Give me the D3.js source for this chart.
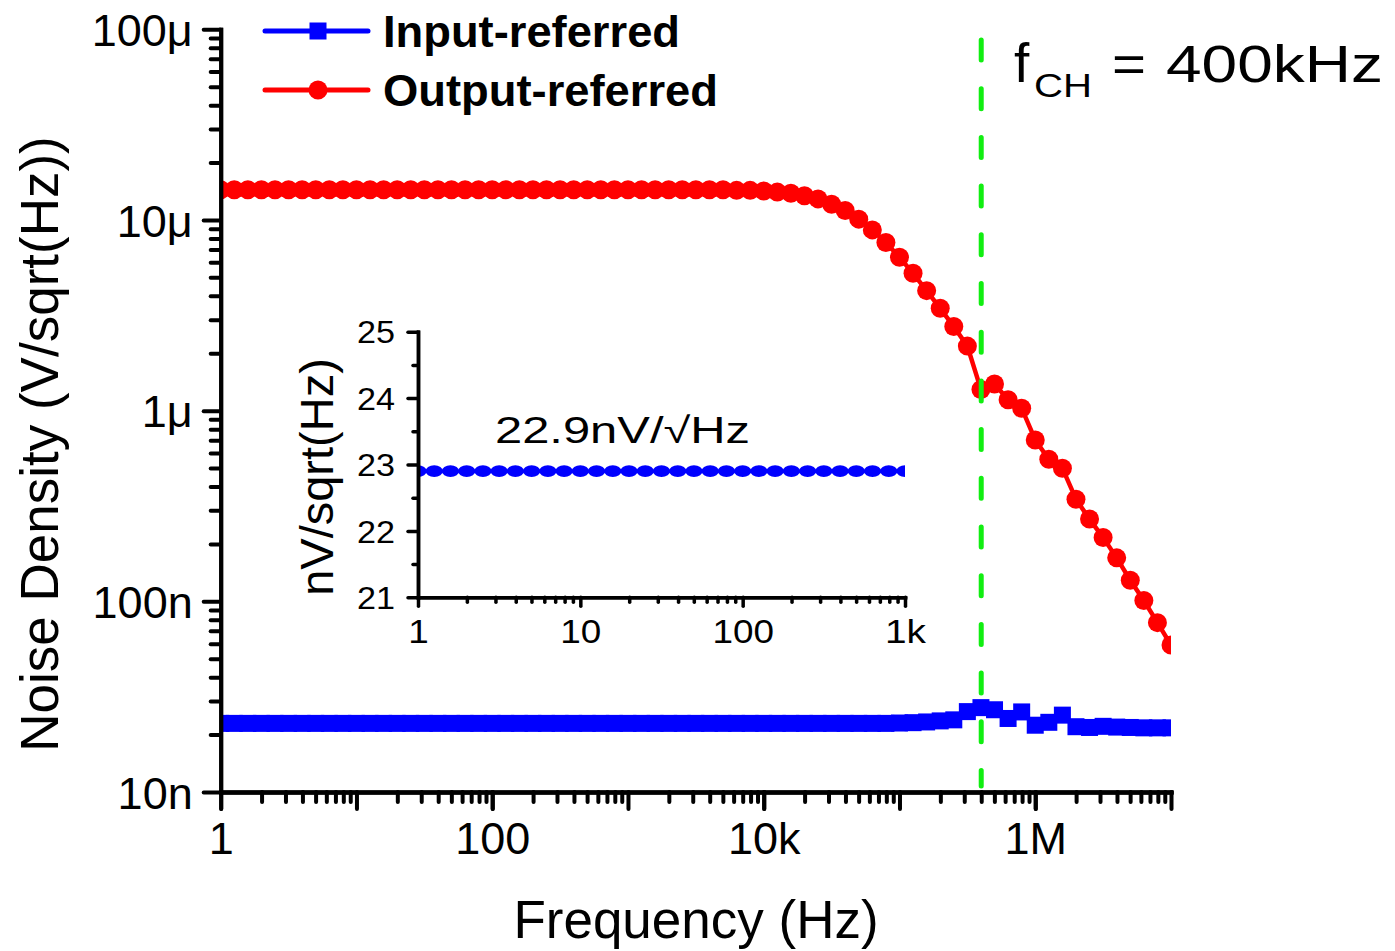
<!DOCTYPE html>
<html>
<head>
<meta charset="utf-8">
<script src="https://cdn.jsdelivr.net/npm/d3@7"></script>
<style>
  body { margin: 0; background: #fff; }
  svg { display: block; }
  text { font-family: "Liberation Sans", Arial, Helvetica, sans-serif; fill: #000; }
</style>
</head>
<body>
<svg id="chart" width="1395" height="951"></svg>
<script>
// Sweep: 10 points per decade, 1 Hz .. 10 MHz
const pointsPerDecade = 10;

// Output-referred noise density, μV/√Hz
const outputReferred = [
  14.4, 14.4, 14.4, 14.4, 14.4, 14.4, 14.4, 14.4, 14.4, 14.4,
  14.4, 14.4, 14.4, 14.4, 14.4, 14.4, 14.4, 14.4, 14.4, 14.4,
  14.4, 14.4, 14.4, 14.4, 14.4, 14.4, 14.4, 14.4, 14.4, 14.4,
  14.4, 14.4, 14.4, 14.4, 14.4, 14.4, 14.4, 14.4, 14.3, 14.3,
  14.2, 14.0, 13.8, 13.4, 12.9, 12.1, 11.2, 10.1, 8.87, 7.61,
  6.37, 5.25, 4.26, 3.44, 2.76, 2.18, 1.29, 1.38, 1.14, 1.03,
  0.702, 0.556, 0.499, 0.343, 0.270, 0.216, 0.169, 0.129, 0.101, 0.0773,
  0.059
];

// Input-referred noise density, nV/√Hz
const inputReferred = [
  22.9, 22.9, 22.9, 22.9, 22.9, 22.9, 22.9, 22.9, 22.9, 22.9,
  22.9, 22.9, 22.9, 22.9, 22.9, 22.9, 22.9, 22.9, 22.9, 22.9,
  22.9, 22.9, 22.9, 22.9, 22.9, 22.9, 22.9, 22.9, 22.9, 22.9,
  22.9, 22.9, 22.9, 22.9, 22.9, 22.9, 22.9, 22.9, 22.9, 22.9,
  22.9, 22.9, 22.9, 22.9, 22.9, 22.9, 22.9, 22.9, 22.9, 22.9,
  23.0, 23.1, 23.3, 23.6, 23.9, 26.4, 27.7, 27.0, 24.3, 26.3,
  22.4, 23.2, 25.3, 22.0, 21.8, 22.1, 21.9, 21.8, 21.7, 21.7,
  21.7
];

// Inset: input-referred noise, 1 Hz .. 1 kHz, nV/√Hz
const insetNoise = [
  22.9, 22.9, 22.9, 22.9, 22.9, 22.9, 22.9, 22.9, 22.9, 22.9,
  22.9, 22.9, 22.9, 22.9, 22.9, 22.9, 22.9, 22.9, 22.9, 22.9,
  22.9, 22.9, 22.9, 22.9, 22.9, 22.9, 22.9, 22.9, 22.9, 22.9,
  22.9
];

const xTickValues = [1, 100, 1e4, 1e6];
const xTickLabels = ["1", "100", "10k", "1M"];
const yTickValues = [1e-8, 1e-7, 1e-6, 1e-5, 1e-4];
const yTickLabels = ["10n", "100n", "1μ", "10μ", "100μ"];
const insetXTickValues = [1, 10, 100, 1000];
const insetXTickLabels = ["1", "10", "100", "1k"];
const insetYTickValues = [21, 22, 23, 24, 25];
const insetYTickLabels = ["21", "22", "23", "24", "25"];
const seriesNames = ["Input-referred", "Output-referred"];
const chopFrequency = 400e3;
const insetNote = "22.9nV/√Hz";

const RED = "#ff0000", BLUE = "#0000ff", GREEN = "#11ee11";

const svg = d3.select("#chart");

const sweep = d3.range(outputReferred.length).map(k => Math.pow(10, k / pointsPerDecade));
const insetSweep = d3.range(insetNoise.length).map(k => Math.pow(10, k / pointsPerDecade));

// ---------- main scales ----------
const x = d3.scaleLog().domain([1, 1e7]).range([220.7, 1171]);
const y = d3.scaleLog().domain([1e-8, 1e-4]).range([792, 29.3]);

const [px0, px1] = x.range();
const [py1, py0] = y.range();

svg.append("defs").append("clipPath").attr("id", "plotClip")
  .append("rect").attr("x", px0).attr("y", py0).attr("width", px1 - px0).attr("height", py1 - py0);

const plot = svg.append("g").attr("clip-path", "url(#plotClip)");

// Input-referred (blue squares)
const inData = sweep.map((f, i) => ({ f, v: inputReferred[i] * 1e-9 }));
plot.append("path")
  .datum(inData)
  .attr("fill", "none").attr("stroke", BLUE).attr("stroke-width", 4.5)
  .attr("d", d3.line().x(d => x(d.f)).y(d => y(d.v)));
const sq = 17;
plot.append("g").selectAll("rect").data(inData).join("rect")
  .attr("x", d => x(d.f) - sq / 2).attr("y", d => y(d.v) - sq / 2)
  .attr("width", sq).attr("height", sq).attr("fill", BLUE);

// Output-referred (red circles)
const outData = sweep.map((f, i) => ({ f, v: outputReferred[i] * 1e-6 }));
plot.append("path")
  .datum(outData)
  .attr("fill", "none").attr("stroke", RED).attr("stroke-width", 4.5)
  .attr("d", d3.line().x(d => x(d.f)).y(d => y(d.v)));
plot.append("g").selectAll("circle").data(outData).join("circle")
  .attr("cx", d => x(d.f)).attr("cy", d => y(d.v)).attr("r", 9.5).attr("fill", RED);

// Chopping frequency marker
svg.append("line")
  .attr("x1", x(chopFrequency)).attr("x2", x(chopFrequency))
  .attr("y1", 40).attr("y2", 786)
  .attr("stroke", GREEN).attr("stroke-width", 5)
  .attr("stroke-dasharray", "20 28.7").attr("stroke-linecap", "round");

// ---------- main axes ----------
function styleAxis(g, w) {
  g.select(".domain").attr("stroke", "#000").attr("stroke-width", w).attr("stroke-linecap", "square");
  g.selectAll(".tick line").attr("stroke", "#000").attr("stroke-width", w).attr("stroke-linecap", "round");
}

const decades = d3.range(0, 8).map(e => Math.pow(10, e));
const minorX = [];
for (let e = 0; e < 7; e++) for (let m = 2; m <= 9; m++) minorX.push(m * Math.pow(10, e));
const minorY = [];
for (let e = -8; e < -4; e++) for (let m = 2; m <= 9; m++) minorY.push(m * Math.pow(10, e));

// x minor + major ticks
svg.append("g").attr("transform", `translate(0,${py1})`)
  .call(d3.axisBottom(x).tickValues(minorX).tickSize(10).tickSizeOuter(0).tickFormat(""))
  .call(g => styleAxis(g, 4));
svg.append("g").attr("transform", `translate(0,${py1})`)
  .call(d3.axisBottom(x).tickValues(decades).tickSize(17).tickSizeOuter(0).tickFormat(""))
  .call(g => styleAxis(g, 4));
svg.append("g").attr("transform", `translate(0,${py1})`)
  .call(d3.axisBottom(x).tickValues(xTickValues).tickSize(17).tickPadding(13).tickSizeOuter(0)
    .tickFormat((d, i) => xTickLabels[i]))
  .call(g => styleAxis(g, 4))
  .call(g => g.selectAll(".tick text").attr("font-size", 45).attr("font-family", '"Liberation Sans", Arial, sans-serif').attr("fill", "#000"));

// y minor + major ticks
svg.append("g").attr("transform", `translate(${px0},0)`)
  .call(d3.axisLeft(y).tickValues(minorY).tickSize(10).tickSizeOuter(0).tickFormat(""))
  .call(g => styleAxis(g, 4));
svg.append("g").attr("transform", `translate(${px0},0)`)
  .call(d3.axisLeft(y).tickValues(yTickValues).tickSize(17).tickPadding(11).tickSizeOuter(0)
    .tickFormat((d, i) => yTickLabels[i]))
  .call(g => styleAxis(g, 4))
  .call(g => g.selectAll(".tick text").attr("font-size", 45).attr("dy", "0.36em")
    .attr("font-family", '"Liberation Sans", Arial, sans-serif').attr("fill", "#000"));

// axis titles
svg.append("text").attr("x", 696).attr("y", 938).attr("text-anchor", "middle")
  .attr("font-size", 53).text("Frequency (Hz)");
svg.append("text").attr("transform", "translate(58,444) rotate(-90)").attr("text-anchor", "middle")
  .attr("font-size", 53).text("Noise Density (V/sqrt(Hz))");

// ---------- legend ----------
const legend = svg.append("g");
[[31, BLUE, "square"], [90, RED, "circle"]].forEach(([ly, color, shape], i) => {
  legend.append("line").attr("x1", 265).attr("x2", 368).attr("y1", ly).attr("y2", ly)
    .attr("stroke", color).attr("stroke-width", 5).attr("stroke-linecap", "round");
  if (shape === "square") {
    legend.append("rect").attr("x", 318 - 8.5).attr("y", ly - 8.5).attr("width", 17).attr("height", 17).attr("fill", color);
  } else {
    legend.append("circle").attr("cx", 318).attr("cy", ly).attr("r", 9.5).attr("fill", color);
  }
  legend.append("text").attr("x", 383).attr("y", ly + 16).attr("font-size", 45).attr("font-weight", "bold")
    .attr("textLength", i === 0 ? 297 : 335).attr("lengthAdjust", "spacingAndGlyphs")
    .text(seriesNames[i]);
});

// ---------- f_CH annotation ----------
const ann = svg.append("g");
ann.append("text").attr("x", 1014).attr("y", 82).attr("font-size", 55).text("f");
ann.append("text").attr("x", 1034).attr("y", 97).attr("font-size", 33)
  .attr("textLength", 58).attr("lengthAdjust", "spacingAndGlyphs").text("CH");
ann.append("text").attr("x", 1112).attr("y", 82).attr("font-size", 52)
  .attr("textLength", 34).attr("lengthAdjust", "spacingAndGlyphs").text("=");
ann.append("text").attr("x", 1166).attr("y", 82).attr("font-size", 52)
  .attr("textLength", 217).attr("lengthAdjust", "spacingAndGlyphs").text("400kHz");

// ---------- inset ----------
const ix = d3.scaleLog().domain([1, 1000]).range([418, 905]);
const iy = d3.scaleLinear().domain([21, 25]).range([597.3, 331.7]);

svg.select("defs").append("clipPath").attr("id", "insetClip")
  .append("rect").attr("x", 418).attr("y", 331.7).attr("width", 905 - 418).attr("height", 597.3 - 331.7);

const inset = svg.append("g");
const insetPlot = inset.append("g").attr("clip-path", "url(#insetClip)");
const insetData = insetSweep.map((f, i) => ({ f, v: insetNoise[i] }));
insetPlot.append("path").datum(insetData)
  .attr("fill", "none").attr("stroke", BLUE).attr("stroke-width", 3)
  .attr("d", d3.line().x(d => ix(d.f)).y(d => iy(d.v)));
insetPlot.append("g").selectAll("ellipse").data(insetData).join("ellipse")
  .attr("cx", d => ix(d.f)).attr("cy", d => iy(d.v)).attr("rx", 8.7).attr("ry", 5.8).attr("fill", BLUE);

const insetMinorX = [];
for (let e = 0; e < 3; e++) for (let m = 2; m <= 9; m++) insetMinorX.push(m * Math.pow(10, e));
const insetMinorY = [21.5, 22.5, 23.5, 24.5];

inset.append("g").attr("transform", "translate(0,597.3)")
  .call(d3.axisBottom(ix).tickValues(insetMinorX).tickSize(5).tickSizeOuter(0).tickFormat(""))
  .call(g => styleAxis(g, 3.5));
inset.append("g").attr("transform", "translate(0,597.3)")
  .call(d3.axisBottom(ix).tickValues(insetXTickValues).tickSize(9).tickPadding(13).tickSizeOuter(0)
    .tickFormat((d, i) => insetXTickLabels[i]))
  .call(g => styleAxis(g, 3.5))
  .call(g => g.selectAll(".tick text")
    .attr("font-size", 34).attr("font-family", '"Liberation Sans", Arial, sans-serif').attr("fill", "#000")
    .attr("textLength", (d, i) => insetXTickLabels[i].length * 20.5)
    .attr("lengthAdjust", "spacingAndGlyphs"));

inset.append("g").attr("transform", "translate(418,0)")
  .call(d3.axisLeft(iy).tickValues(insetMinorY).tickSize(5).tickSizeOuter(0).tickFormat(""))
  .call(g => styleAxis(g, 3.5));
inset.append("g").attr("transform", "translate(418,0)")
  .call(d3.axisLeft(iy).tickValues(insetYTickValues).tickSize(10).tickPadding(13).tickSizeOuter(0)
    .tickFormat((d, i) => insetYTickLabels[i]))
  .call(g => styleAxis(g, 3.5))
  .call(g => g.selectAll(".tick text")
    .attr("font-size", 31).attr("dy", "0.36em")
    .attr("font-family", '"Liberation Sans", Arial, sans-serif').attr("fill", "#000")
    .attr("textLength", 38).attr("lengthAdjust", "spacingAndGlyphs"));

inset.append("text").attr("transform", "translate(333,477) rotate(-90)").attr("text-anchor", "middle")
  .attr("font-size", 47).text("nV/sqrt(Hz)");

inset.append("text").attr("x", 495).attr("y", 443).attr("font-size", 36)
  .attr("textLength", 255).attr("lengthAdjust", "spacingAndGlyphs").text(insetNote);
</script>
</body>
</html>
